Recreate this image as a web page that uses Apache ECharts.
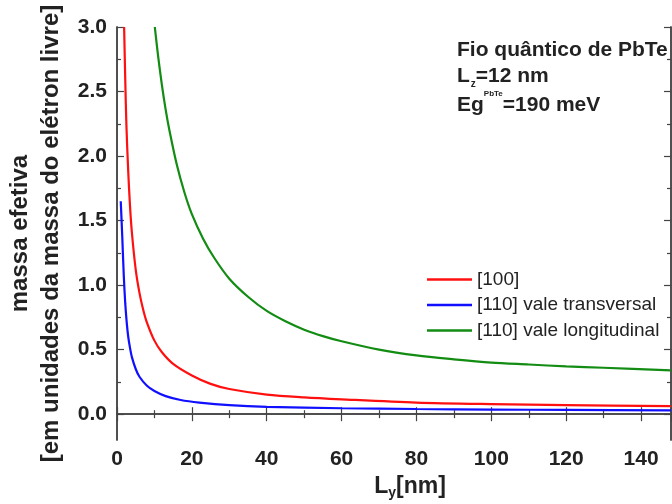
<!DOCTYPE html>
<html>
<head>
<meta charset="utf-8">
<script src="https://cdn.jsdelivr.net/npm/echarts@6/dist/echarts.min.js"></script>
<style>
html, body { margin: 0; padding: 0; background: #fff; }
#chart { width: 672px; height: 504px; }
</style>
</head>
<body>
<div id="chart"></div>
<script>
// curvas: Ly (nm) e massa efetiva
var ly100 = [1.9, 2.2, 2.5, 3.0, 3.5, 4.0, 5.0, 6.0, 7.0, 8.0, 10, 12, 15, 20, 25, 30, 40, 50, 60, 80, 100, 120, 148];
var m100  = [3.0, 2.6, 2.25, 1.88, 1.6, 1.4, 1.12, 0.94, 0.81, 0.71, 0.57, 0.48, 0.39, 0.30, 0.235, 0.195, 0.152, 0.13, 0.115, 0.09, 0.078, 0.07, 0.063];

var ly110t = [1.0, 1.4, 1.8, 2.2, 2.6, 3.0, 3.5, 4, 5, 6, 8, 10, 13, 17, 22, 30, 40, 60, 80, 100, 120, 148];
var m110t  = [1.65, 1.38, 1.08, 0.86, 0.71, 0.60, 0.51, 0.44, 0.35, 0.29, 0.22, 0.18, 0.14, 0.11, 0.09, 0.07, 0.057, 0.046, 0.04, 0.036, 0.033, 0.03];

var ly110l = [10.1, 11, 12, 13, 14, 16, 18, 20, 23, 26, 30, 35, 40, 45, 50, 55, 60, 70, 80, 90, 100, 110, 120, 130, 148];
var m110l  = [3.0, 2.77, 2.55, 2.36, 2.20, 1.93, 1.72, 1.55, 1.36, 1.21, 1.05, 0.91, 0.80, 0.72, 0.655, 0.605, 0.565, 0.50, 0.455, 0.425, 0.40, 0.385, 0.37, 0.36, 0.34];

var yMajor = [0, 0.5, 1.0, 1.5, 2.0, 2.5, 3.0];
var yMinor = [0.25, 0.75, 1.25, 1.75, 2.25, 2.75];

var legendNames = ['[100]', '[110] vale transversal', '[110] vale longitudinal'];

function pares(xs, ys) {
    return xs.map((x, i) => [x, ys[i]]);
}

var chart = echarts.init(document.getElementById('chart'));

var fam = '"Liberation Sans", Arial, sans-serif';
var corEixo = '#444';
var fonteTick = { fontFamily: fam, fontWeight: 'bold', fontSize: 21, color: '#222' };

function yEixo(pos, valores, comp, rotulos) {
    return {
        type: 'value', position: pos, min: -0.2, max: 3.0,
        axisLine: { show: true, lineStyle: { color: corEixo, width: 1.5 } },
        axisTick: { show: true, inside: true, length: comp, customValues: valores, lineStyle: { color: corEixo, width: 1.2 } },
        axisLabel: rotulos ? Object.assign({ customValues: valores, margin: 10, formatter: v => v.toFixed(1) }, fonteTick) : { show: false },
        splitLine: { show: false }
    };
}

function xEixo(pos) {
    return {
        type: 'value', position: pos, min: 0, max: 148, interval: 20,
        axisLine: { lineStyle: { color: corEixo, width: 1.5 } },
        axisTick: { inside: true, length: 7, lineStyle: { color: corEixo, width: 1.2 } },
        minorTick: { show: true, splitNumber: 2, length: 4, lineStyle: { color: corEixo, width: 1.2 } },
        axisLabel: pos === 'bottom' ? Object.assign({ margin: 9, showMaxLabel: false }, fonteTick) : { show: false },
        splitLine: { show: false }
    };
}

function serie(nome, xs, ys, cor) {
    return {
        name: nome, type: 'line', data: pares(xs, ys),
        symbol: 'none', smooth: 0.3, clip: true,
        lineStyle: { color: cor, width: 2.2 }, itemStyle: { color: cor }
    };
}

var option = {
    animation: false,
    backgroundColor: '#fff',
    grid: { left: 117, top: 27, right: 1, bottom: 64, outerBoundsMode: 'none', containLabel: false },
    legend: {
        orient: 'vertical', left: 427, top: 270, padding: 0,
        icon: 'rect', itemWidth: 45, itemHeight: 2.5, itemGap: 6.5,
        textStyle: { fontFamily: fam, fontSize: 19, color: '#222' },
        data: legendNames
    },
    xAxis: [
        Object.assign(xEixo('bottom'), {
            name: '{b|L}{s|y}{b|[nm]}',
            nameLocation: 'middle', nameGap: 30,
            nameTextStyle: {
                padding: [0, 0, 0, 32],
                rich: {
                    b: { fontFamily: fam, fontWeight: 'bold', fontSize: 23, color: '#222' },
                    s: { fontFamily: fam, fontWeight: 'bold', fontSize: 14, color: '#222', padding: [13, 0, 0, 0] }
                }
            }
        }),
        xEixo('top')
    ],
    yAxis: [
        Object.assign(yEixo('left', yMajor, 7, true), {
            name: 'massa efetiva\n[em unidades da massa do elétron livre]',
            nameLocation: 'middle', nameGap: 46, nameRotate: 90,
            nameTextStyle: { fontFamily: fam, fontWeight: 'bold', fontSize: 24, color: '#222', lineHeight: 31 }
        }),
        yEixo('left', yMinor, 4, false),
        yEixo('right', yMajor, 7, false),
        yEixo('right', yMinor, 4, false)
    ],
    graphic: [
        {
            type: 'text', left: 457, top: 40,
            style: { text: 'Fio quântico de PbTe', font: 'bold 21px ' + fam, fill: '#222' }
        },
        {
            type: 'text', left: 457, top: 66,
            style: {
                text: '{b|L}{s|z}{b|=12 nm}',
                rich: {
                    b: { font: 'bold 21px ' + fam, fill: '#222' },
                    s: { font: 'bold 10px ' + fam, fill: '#222', padding: [15, 0, 0, 1] }
                }
            }
        },
        {
            type: 'text', left: 457, top: 90,
            style: {
                text: '{b|Eg}{s|PbTe}{b|=190 meV}',
                rich: {
                    b: { font: 'bold 21px ' + fam, fill: '#222', padding: [8, 0, 0, 0] },
                    s: { font: 'bold 8px ' + fam, fill: '#222', padding: [0, 0, 14, 0] }
                }
            }
        }
    ],
    series: [
        serie(legendNames[0], ly100, m100, '#ff1010'),
        serie(legendNames[1], ly110t, m110t, '#1010ff'),
        serie(legendNames[2], ly110l, m110l, '#128c12')
    ]
};

chart.setOption(option);
</script>
</body>
</html>
